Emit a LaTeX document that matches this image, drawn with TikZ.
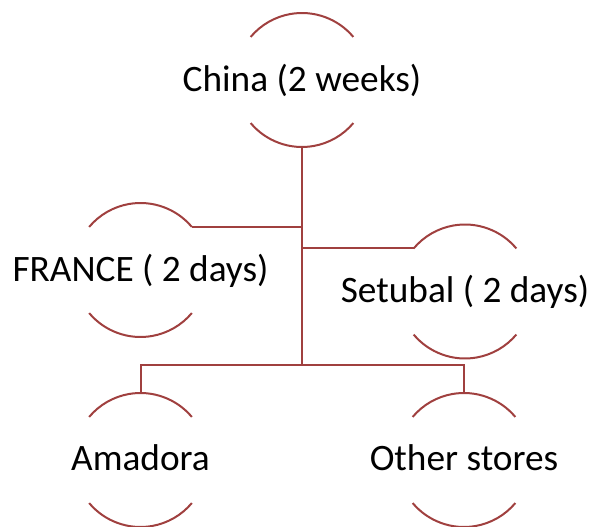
\documentclass[tikz,border=0pt]{standalone}
\usepackage{fontspec}
\setmainfont{Carlito}
\begin{document}
\begin{tikzpicture}[x=1pt,y=1pt,
  ring/.style={circle,draw=none,inner sep=0pt,outer sep=0pt,minimum size=134pt},
  lbl/.style={inner sep=0pt,outer sep=0pt,anchor=base,font=\fontsize{37.3}{42}\selectfont,text=black},
  wire/.style={draw=linecol,line width=2pt}]
\definecolor{linecol}{HTML}{A0403F}
\useasboundingbox (0,0) rectangle (590,-527);
% circles
\node[ring] (C) at (302,-80) {};
\node[ring] (F) at (140.5,-270) {};
\node[ring] (S) at (465,-291.5) {};
\node[ring] (A) at (140.5,-460) {};
\node[ring] (O) at (464,-460) {};
\foreach \n in {C,F,S,A,O}{
  \draw[wire] (\n.40) arc[start angle=40,end angle=140,radius=67pt];
  \draw[wire] (\n.220) arc[start angle=220,end angle=320,radius=67pt];
}
% labels
\node[lbl] (tC) at ([yshift=-11.5pt]C.center) {China (2 weeks)};
\node[lbl] (tF) at ([yshift=-11pt]F.center) {FRANCE ( 2 days)};
\node[lbl] (tS) at ([yshift=-11pt]S.center) {Setubal ( 2 days)};
\node[lbl] (tA) at ([yshift=-10.5pt]A.center) {Amadora};
\node[lbl] (tO) at ([yshift=-10.5pt]O.center) {Other stores};
% connectors
\coordinate (bus) at (302,-365);
\draw[wire] (C.south) -- (C.south |- bus);
\draw[wire] (F.40) -- (F.40 -| C.south);
\draw[wire] (S.140) -- (S.140 -| C.south);
\draw[wire] (A.north) -- (A.north |- bus) -- (O.north |- bus) -- (O.north);
\end{tikzpicture}
\end{document}
